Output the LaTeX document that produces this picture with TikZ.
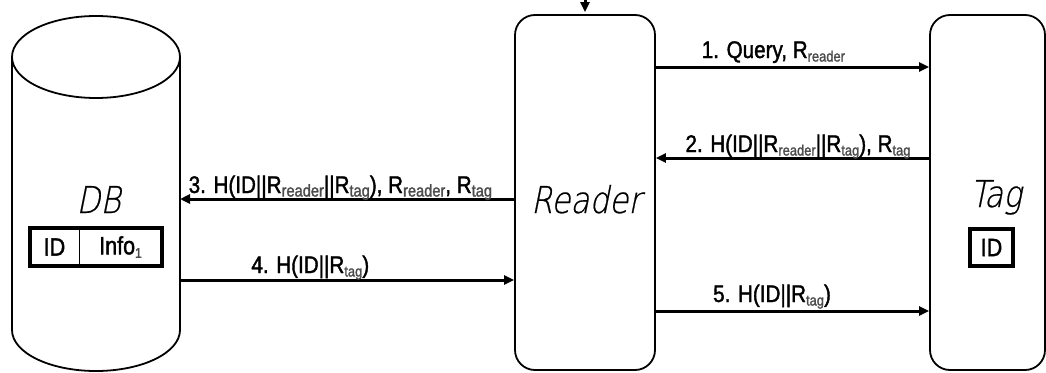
\documentclass[tikz,border=0pt]{standalone}
\usepackage{fontspec}
\setmainfont{Liberation Sans}
\newfontfamily\namefont[FakeStretch=0.84,FakeSlant=0.2,FakeBold=0.5]{DejaVu Sans ExtraLight}
\newfontfamily\msgfont[FakeStretch=0.86,FakeBold=1.6]{Liberation Sans}
\usetikzlibrary{arrows.meta,positioning}
\newcommand\sbs[2][15]{\raisebox{-3.5pt}{\fontsize{#1}{#1}\msgfont\color{black!70}#2}}

\begin{document}
\begin{tikzpicture}[x=1pt,y=-1pt,party/.style={draw,line width=1.8pt,rounded corners=20pt,minimum width=140pt,minimum height=355pt,inner sep=0pt},bigname/.style={font=\namefont\fontsize{37}{37}\selectfont,anchor=base,inner sep=0pt},cell/.style={draw,line width=0.8pt,minimum height=38pt,inner sep=0pt,outer sep=0pt,font=\msgfont\fontsize{25}{25}\selectfont},arr/.style={-{Triangle[length=10pt,width=9pt]},line width=3pt},msg/.style={anchor=base,inner sep=0pt,font=\msgfont\fontsize{24}{24}\selectfont}]
\useasboundingbox (0,0) rectangle (1046,372);
% database
\draw[line width=1.8pt] (96,57) ellipse [x radius=84,y radius=41];
\draw[line width=1.8pt] (12,57) -- (12,330) arc[start angle=180,end angle=0,x radius=84,y radius=41] -- (180,57);
\coordinate (dbedge) at (180,57);
\node[bigname] (dbname) at (98.5,213) {DB};
\node[cell,minimum width=49pt] (dbid) at (54.5,247) {ID};
\node[cell,minimum width=83pt,right=0pt of dbid] (dbinfo) {Info\sbs[14]{1}};
\draw[line width=3.5pt] (dbid.north west) rectangle (dbinfo.south east);
% reader and tag
\node[party] (reader) at (585,192.5) {};
\node[bigname] (readername) at (586,213) {Reader};
\node[party,minimum width=115pt] (tag) at (987.5,192.5) {};
\node[bigname] (tagname) at (996,207) {Tag};
\node[cell,line width=3.5pt,minimum width=43pt,minimum height=37pt] (tagid) at (991.5,247.5) {ID};
\coordinate (feed) at (585,-20);
\draw[arr,shorten >=2pt] (feed) -- (reader.north);
% messages
\foreach \n/\y in {1/67,2/158,3/199,4/280,5/311} \coordinate (m\n) at (0,\y);
\draw[arr] (reader.east |- m1) -- (tag.west |- m1) node[msg,pos=.43,yshift=9pt] {1. Query, R\sbs{reader}};
\draw[arr] (tag.west |- m2) -- (reader.east |- m2) node[msg,pos=.48,yshift=6pt] {2. H(ID||R\sbs{reader}||R\sbs{tag}), R\sbs{tag}};
\draw[arr] (reader.west |- m3) -- (dbedge |- m3) node[msg,pos=.52,yshift=6pt] {3. H(ID||R\sbs[17]{reader}||R\sbs[17]{tag}), R\sbs[17]{reader}, R\sbs[17]{tag}};
\draw[arr] (dbedge |- m4) -- (reader.west |- m4) node[msg,pos=.39,yshift=7pt] {4. H(ID||R\sbs{tag})};
\draw[arr] (reader.east |- m5) -- (tag.west |- m5) node[msg,pos=.425,yshift=9pt] {5. H(ID||R\sbs{tag})};
\end{tikzpicture}
\end{document}
